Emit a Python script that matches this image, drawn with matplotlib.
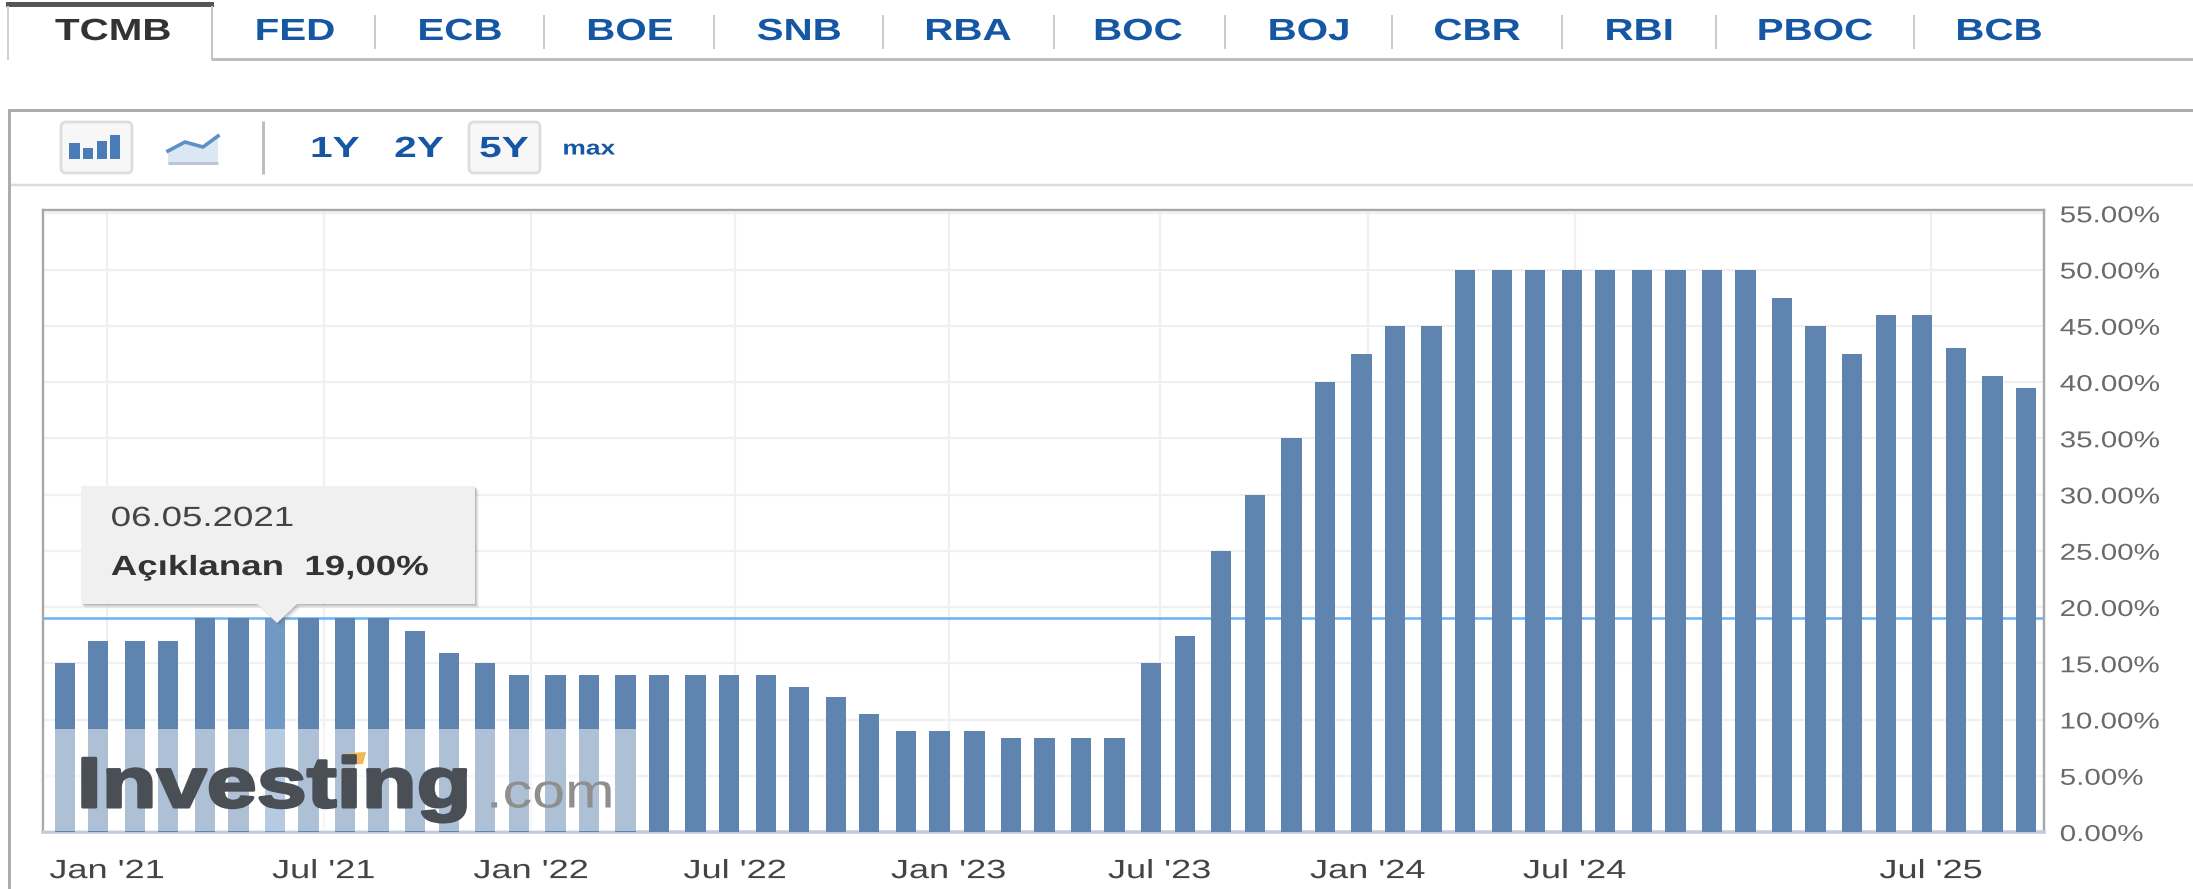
import numpy as np
import matplotlib
matplotlib.use("Agg")
import matplotlib.pyplot as plt
from matplotlib.patches import FancyBboxPatch, Polygon, Rectangle
from matplotlib.patheffects import AbstractPathEffect
from matplotlib.transforms import Affine2D

plt.rcParams['font.family'] = ['Liberation Sans', 'DejaVu Sans']
plt.rcParams['ytick.alignment'] = 'center_baseline'

W, H = 2193, 889

# Datos
rates = [15, 17, 17, 17, 19, 19, 19, 19, 19, 19, 17.9, 15.9, 15,
         14, 14, 14, 14, 14, 14, 14, 14, 12.9, 12, 10.5, 9, 9, 9,
         8.4, 8.4, 8.4, 8.4, 15, 17.4, 25, 30, 35, 40, 42.5, 45, 45,
         50, 50, 50, 50, 50, 50, 50, 50, 50,
         47.5, 45, 42.5, 46, 46, 43, 40.5, 39.5]
highlight = 6
highlight_value = 19
tooltip_date = "06.05.2021"
tooltip_text = "Açıklanan  19,00%"

x_tick_pos = [1.23, 7.41, 13.33, 19.15, 25.24, 31.26, 37.2, 43.1, 53.27]
x_tick_labels = ["Jan '21", "Jul '21", "Jan '22", "Jul '22", "Jan '23",
                 "Jul '23", "Jan '24", "Jul '24", "Jul '25"]
y_ticks = [0, 5, 10, 15, 20, 25, 30, 35, 40, 45, 50, 55]
y_tick_labels = [f"{v}.00%" for v in y_ticks]

tabs = ["FED", "ECB", "BOE", "SNB", "RBA", "BOC", "BOJ", "CBR", "RBI", "PBOC", "BCB"]
tab_centers = [295, 460, 630, 799, 968, 1138, 1309, 1477, 1639, 1815, 1999]
tab_seps = [375, 544, 714, 883, 1054, 1225, 1392, 1562, 1716, 1914]

# Colores
BAR = "#5f84b0"
BAR_HI = "#7199c6"
BLUE = "#1657a3"
GRID = "#f0f0f0"
BORDER = "#a8a8a8"


# La captura original está estirada en horizontal
class Stretch(AbstractPathEffect):
    def __init__(self, sx=1.32, anchor="center", stroke=0):
        super().__init__()
        self.sx = sx
        self.anchor = anchor
        self.stroke = stroke

    def draw_path(self, renderer, gc, tpath, affine, rgbFace=None):
        box = affine.transform_path(tpath).get_extents()
        x0 = box.x0 if self.anchor == "left" else (box.x0 + box.x1) / 2
        st = Affine2D().translate(-x0, 0).scale(self.sx, 1).translate(x0, 0)
        if self.stroke:
            gc.set_linewidth(self.stroke)
        renderer.draw_path(gc, tpath, affine + st, rgbFace)


def px_axes(zorder):
    a = fig.add_axes([0, 0, 1, 1], zorder=zorder)
    a.set_xlim(0, W)
    a.set_ylim(H, 0)
    a.axis("off")
    a.patch.set_alpha(0)
    return a


def wide_text(a, x, y, s, sx=1.32, anchor="center", stroke=0, **kw):
    t = a.text(x, y, s, ha=anchor, va="center", **kw)
    t.set_path_effects([Stretch(sx, anchor, stroke)])
    return t


def px_line(a, xs, ys, color, width):
    a.plot(xs, ys, color=color, lw=width * 0.72, solid_capstyle="butt")


fig = plt.figure(figsize=(W / 100, H / 100), dpi=100, facecolor="white")

# Pestañas y barra de botones
back = px_axes(0)
back.add_patch(Rectangle((6, 2), 208, 5, color="#555555", lw=0))
px_line(back, [8, 8], [6, 60], "#d0d0d0", 2)
px_line(back, [212, 212], [6, 59], "#c4c4c4", 2)
px_line(back, [211, W], [59, 59], "#bdbdbd", 3)
wide_text(back, 113, 32, "TCMB", fontsize=22, fontweight="bold", color="#333333")
for name, cx in zip(tabs, tab_centers):
    wide_text(back, cx, 32, name, fontsize=22, fontweight="bold", color=BLUE)
for sx in tab_seps:
    px_line(back, [sx, sx], [15, 49], "#cccccc", 2)

px_line(back, [8, W], [109.5, 109.5], "#acacac", 3)
px_line(back, [8, W], [185, 185], "#dcdcdc", 2.5)
px_line(back, [9, 9], [109, H], "#acacac", 3)

for x0, x1 in [(61, 132), (469, 540)]:
    back.add_patch(FancyBboxPatch((x0 + 3, 125), x1 - x0 - 6, 45,
                                  boxstyle="round,pad=3,rounding_size=5",
                                  fc="#f7f7f7", ec="#dddddd", lw=2))
for x0, x1, top in [(69, 80, 143), (83, 93, 148), (97, 107, 141), (110, 120, 135)]:
    back.add_patch(Rectangle((x0, top), x1 - x0, 159 - top, color="#4a7db8", lw=0))
back.add_patch(Polygon([(168, 151), (185, 142), (203, 147), (218, 136), (218, 163), (168, 163)],
                       fc="#dce7f4", ec="none"))
back.plot([168, 185, 203, 218], [151, 142, 147, 136], color="#5f8fc4", lw=2.6)
px_line(back, [168, 218], [163, 163], "#bcc6d2", 3)
px_line(back, [263, 263], [121, 174], "#bdbdbd", 3)

for label, cx in [("1Y", 335), ("2Y", 419), ("5Y", 504)]:
    wide_text(back, cx, 149, label, sx=1.39, fontsize=21, fontweight="bold", color=BLUE)
wide_text(back, 589, 149, "max", sx=1.3, fontsize=14.6, fontweight="bold", color=BLUE)

# Gráfico de barras
left, right, top, bottom = 43, 2044, 210, 832
ax = fig.add_axes([left / W, 1 - bottom / H, (right - left) / W, (bottom - top) / H], zorder=1)
step, origin = 35.05, 63.9
ax.set_xlim((left - origin) / step, (right - origin) / step)
ax.set_ylim(0, (bottom - top) / 11.25)

idx = np.arange(len(rates))
# las barras caen en píxeles alternos, y la fase cambia hacia la mitad
phase = np.where(idx <= 25, idx, idx + 1) % 2
bar_x = idx + (0.022 - 0.044 * phase)
colors = [BAR_HI if i == highlight else BAR for i in idx]
ax.bar(bar_x, rates, width=0.58, color=colors, zorder=3)
ax.axhline(highlight_value, color="#6cb4f4", lw=2.6 * 0.72, zorder=2)

ax.set_axisbelow(True)
ax.grid(True, color=GRID, lw=2.2 * 0.72)
ax.yaxis.tick_right()
ax.set_yticks(y_ticks)
ax.set_yticklabels(y_tick_labels)
ax.set_xticks(x_tick_pos)
ax.set_xticklabels(x_tick_labels)
ax.tick_params(axis="y", length=0, pad=11.5, labelsize=16.5, labelcolor="#6a6a6a")
ax.tick_params(axis="x", length=0, pad=19.5, labelsize=19, labelcolor="#444444")
for lab in ax.get_yticklabels():
    lab.set_path_effects([Stretch(1.29, "left")])
for lab in ax.get_xticklabels():
    lab.set_path_effects([Stretch(1.37)])

for side in ["left", "top", "right"]:
    ax.spines[side].set_color(BORDER)
    ax.spines[side].set_linewidth(2.4 * 0.72)
ax.spines["bottom"].set_color("#c0cbdc")
ax.spines["bottom"].set_linewidth(3.5 * 0.72)

# Marca de agua y tooltip
front = px_axes(2)
front.add_patch(Rectangle((44, 729), 592, 102, fc="white", alpha=0.49, lw=0))
wide_text(front, 78, 789, "Investing", sx=1.27, anchor="left", stroke=2.2, fontsize=51,
          fontweight="bold", color="#4a4f56")
wide_text(front, 487, 795, ".com", sx=1.22, anchor="left", fontsize=35,
          color="#8f8f8f")
front.add_patch(Polygon([(349, 753), (366, 752), (363, 764), (346, 765)], fc="#f0b955", ec="none"))

tip = [(81, 486), (475, 486), (475, 604), (297, 604), (277, 623), (257, 604), (81, 604)]
for off, a in [(4, 0.06), (3, 0.10), (2, 0.16), (1, 0.22)]:
    front.add_patch(Polygon([(x + off, y + off) for x, y in tip], fc="#666666", ec="none", alpha=a))
front.add_patch(Polygon(tip, fc="#f0f0f0", ec="none"))
wide_text(front, 111, 519, tooltip_date, anchor="left", fontsize=20, color="#444444")
wide_text(front, 111, 568, tooltip_text, anchor="left", fontsize=20, fontweight="bold", color="#333333")

fig.savefig("out.png", dpi=100)
